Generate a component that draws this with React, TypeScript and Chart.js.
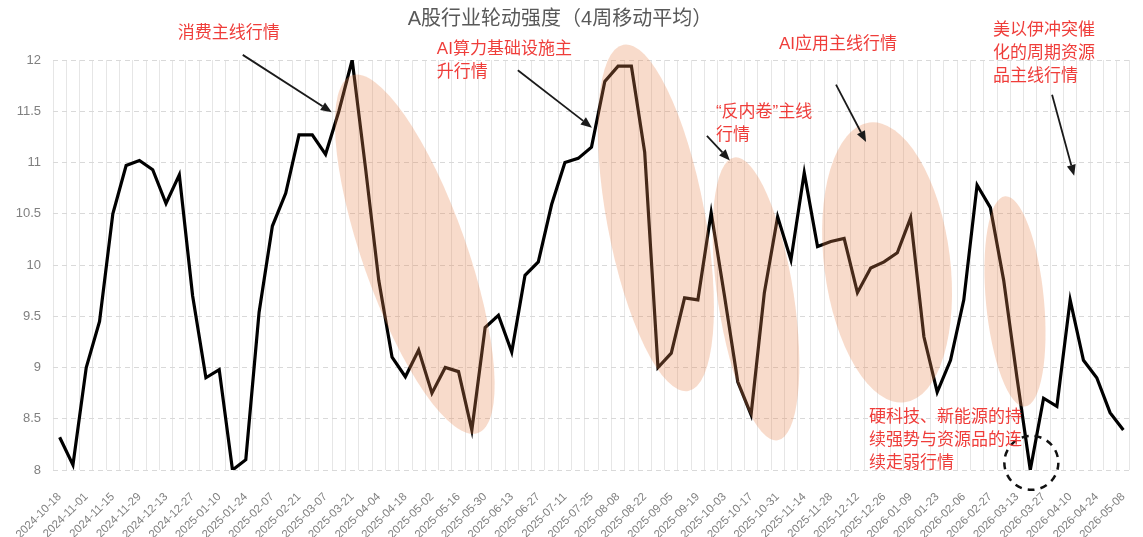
import { useEffect, useRef } from "react";
import { Chart, registerables } from "chart.js";

Chart.register(...registerables);

const chartTitle = "A股行业轮动强度（4周移动平均）";

const weeks = [
  "2024-10-18", "2024-10-25", "2024-11-01", "2024-11-08", "2024-11-15", "2024-11-22", "2024-11-29",
  "2024-12-06", "2024-12-13", "2024-12-20", "2024-12-27",
  "2025-01-03", "2025-01-10", "2025-01-17", "2025-01-24", "2025-01-31", "2025-02-07", "2025-02-14",
  "2025-02-21", "2025-02-28", "2025-03-07", "2025-03-14", "2025-03-21", "2025-03-28", "2025-04-04",
  "2025-04-11", "2025-04-18", "2025-04-25", "2025-05-02", "2025-05-09", "2025-05-16", "2025-05-23",
  "2025-05-30", "2025-06-06", "2025-06-13", "2025-06-20", "2025-06-27", "2025-07-04", "2025-07-11",
  "2025-07-18", "2025-07-25", "2025-08-01", "2025-08-08", "2025-08-15", "2025-08-22", "2025-08-29",
  "2025-09-05", "2025-09-12", "2025-09-19", "2025-09-26", "2025-10-03", "2025-10-10", "2025-10-17",
  "2025-10-24", "2025-10-31", "2025-11-07", "2025-11-14", "2025-11-21", "2025-11-28", "2025-12-05",
  "2025-12-12", "2025-12-19", "2025-12-26",
  "2026-01-02", "2026-01-09", "2026-01-16", "2026-01-23", "2026-01-30", "2026-02-06", "2026-02-13",
  "2026-02-27", "2026-03-06", "2026-03-13", "2026-03-20", "2026-03-27", "2026-04-03", "2026-04-10",
  "2026-04-17", "2026-04-24", "2026-05-01", "2026-05-08",
];

const strength = [
  8.32, 8.05, 9.0, 9.45, 10.5, 10.97, 11.02, 10.93, 10.6, 10.88, 9.7,
  8.9, 8.98, 8.0, 8.1, 9.54, 10.38, 10.7, 11.27, 11.27, 11.08, 11.5, 12.0, 10.95, 9.85,
  9.1, 8.91, 9.17, 8.75, 9.0, 8.96, 8.39, 9.39, 9.51, 9.15, 9.9, 10.03, 10.59, 11.0,
  11.04, 11.15, 11.79, 11.94, 11.94, 11.1, 9.0, 9.14, 9.68, 9.66, 10.51, 9.7, 8.86, 8.54,
  9.73, 10.47, 10.05, 10.9, 10.18, 10.23, 10.26, 9.73, 9.97, 10.03,
  10.12, 10.46, 9.3, 8.76, 9.07, 9.66, 10.78, 10.56, 9.85, 8.9, 8.0, 8.7, 8.62, 9.66,
  9.07, 8.9, 8.56, 8.39,
];

const yMin = 8;
const yMax = 12;
const yStep = 0.5;

// Annotation anchors in data coordinates: [category index, value]
const ellipseFrom = [[21.97, 11.85], [42.4, 12.15], [50.74, 11.05], [60.9, 11.39], [71.1, 10.67]];
const ellipseTo = [[31.45, 8.36], [47.28, 8.77], [54.0, 8.29], [63.56, 8.66], [72.6, 8.62]];
const ellipseHalfWidth = [52, 49, 38, 63, 29];

const noteLines = [
  ["消费主线行情"],
  ["AI算力基础设施主", "升行情"],
  ["AI应用主线行情"],
  ["\u201c反内卷\u201d主线", "行情"],
  ["美以伊冲突催", "化的周期资源", "品主线行情"],
  ["硬科技、新能源的持", "续强势与资源品的连", "续走弱行情"],
];
const noteAt = [[8.88, 12.26], [28.37, 12.1], [54.1, 12.15], [49.36, 11.49], [70.2, 12.29], [60.87, 8.51]];

const arrowFrom = [[13.77, 12.05], [34.46, 11.9], [58.39, 11.76], [48.68, 11.26], [74.64, 11.66]];
const arrowTo = [[20.47, 11.49], [40.03, 11.34], [60.65, 11.2], [50.41, 11.02], [76.3, 10.87]];

const circleAt = [[73.08, 8.07]];

const annotationPlugin = {
  id: "annotations",
  afterDatasetsDraw(chart: any) {
    const { ctx, scales } = chart;
    const xs = scales.x;
    const ys = scales.y;
    const px = (p: number[]) => [xs.getPixelForValue(p[0]), ys.getPixelForValue(p[1])];
    ctx.save();
    ellipseFrom.forEach((f, i) => {
      const [x1, y1] = px(f);
      const [x2, y2] = px(ellipseTo[i]);
      const cx = (x1 + x2) / 2;
      const cy = (y1 + y2) / 2;
      const a = Math.hypot(x2 - x1, y2 - y1) / 2;
      const ang = Math.atan2(y2 - y1, x2 - x1);
      ctx.beginPath();
      ctx.ellipse(cx, cy, a, ellipseHalfWidth[i], ang, 0, Math.PI * 2);
      ctx.fillStyle = "rgba(233,137,82,0.30)";
      ctx.fill();
    });
    ctx.strokeStyle = "#1a1a1a";
    ctx.fillStyle = "#1a1a1a";
    ctx.lineWidth = 1.8;
    arrowFrom.forEach((f, i) => {
      const [x1, y1] = px(f);
      const [x2, y2] = px(arrowTo[i]);
      const ang = Math.atan2(y2 - y1, x2 - x1);
      const hl = 11;
      const hw = 4.5;
      const bx = x2 - hl * Math.cos(ang);
      const by = y2 - hl * Math.sin(ang);
      ctx.beginPath();
      ctx.moveTo(x1, y1);
      ctx.lineTo(bx, by);
      ctx.stroke();
      ctx.beginPath();
      ctx.moveTo(x2, y2);
      ctx.lineTo(bx + hw * Math.sin(ang), by - hw * Math.cos(ang));
      ctx.lineTo(bx - hw * Math.sin(ang), by + hw * Math.cos(ang));
      ctx.closePath();
      ctx.fill();
    });
    circleAt.forEach((c) => {
      const [cx, cy] = px(c);
      ctx.beginPath();
      ctx.setLineDash([7, 6]);
      ctx.lineWidth = 2.5;
      ctx.strokeStyle = "#111";
      ctx.arc(cx, cy, 27, 0, Math.PI * 2);
      ctx.stroke();
      ctx.setLineDash([]);
    });
    ctx.font = "17px 'Liberation Sans', 'Noto Sans CJK SC'";
    ctx.fillStyle = "#ef3d3a";
    ctx.textAlign = "left";
    ctx.textBaseline = "middle";
    noteLines.forEach((lines, i) => {
      const [x, y] = px(noteAt[i]);
      lines.forEach((t, j) => ctx.fillText(t, x, y + j * 23));
    });
    ctx.font = "20px 'Liberation Sans', 'Noto Sans CJK SC'";
    ctx.fillStyle = "#595959";
    ctx.textAlign = "center";
    ctx.fillText(chartTitle, 560, 19);
    ctx.restore();
  },
};

export default function App() {
  const ref = useRef<HTMLCanvasElement | null>(null);
  useEffect(() => {
    if (!ref.current) return;
    const chart = new Chart(ref.current, {
      type: "line",
      data: {
        labels: weeks,
        datasets: [
          {
            data: strength,
            borderColor: "#000",
            borderWidth: 3.2,
            pointRadius: 0,
            tension: 0,
            fill: false,
          },
        ],
      },
      options: {
        animation: false,
        responsive: false,
        layout: { padding: { top: 60, right: 13, bottom: 0, left: 0 } },
        plugins: { legend: { display: false }, title: { display: false }, tooltip: { enabled: false } },
        scales: {
          x: {
            offset: true,
            afterFit: (s: any) => {
              s.height = 67;
              s.paddingLeft = 0;
              s.paddingRight = 0;
            },
            grid: { offset: true, color: "#e6e6e6", lineWidth: 1, drawTicks: false },
            border: { display: false },
            ticks: {
              autoSkip: false,
              maxRotation: 45,
              minRotation: 45,
              padding: 20,
              color: "#808080",
              font: { size: 11.5, family: "'Liberation Sans', Arial, sans-serif" },
              callback: (_v: any, i: number) => (i % 2 === 0 ? weeks[i] : ""),
            },
          },
          y: {
            min: yMin,
            max: yMax,
            afterFit: (s: any) => {
              s.width = 53;
            },
            grid: { color: "#d9d9d9", lineWidth: 1, drawTicks: false },
            border: { display: false, dash: [5, 4] },
            ticks: {
              stepSize: yStep,
              padding: 12,
              color: "#808080",
              font: { size: 13, family: "'Liberation Sans', Arial, sans-serif" },
              callback: (v: any) => String(Number(v)),
            },
          },
        },
      },
      plugins: [annotationPlugin],
    });
    return () => chart.destroy();
  }, []);
  return (
    <div style={{ position: "fixed", left: 0, top: 0, width: 1143, height: 537, background: "#fff" }}>
      <canvas ref={ref} width={1143} height={537} />
    </div>
  );
}
